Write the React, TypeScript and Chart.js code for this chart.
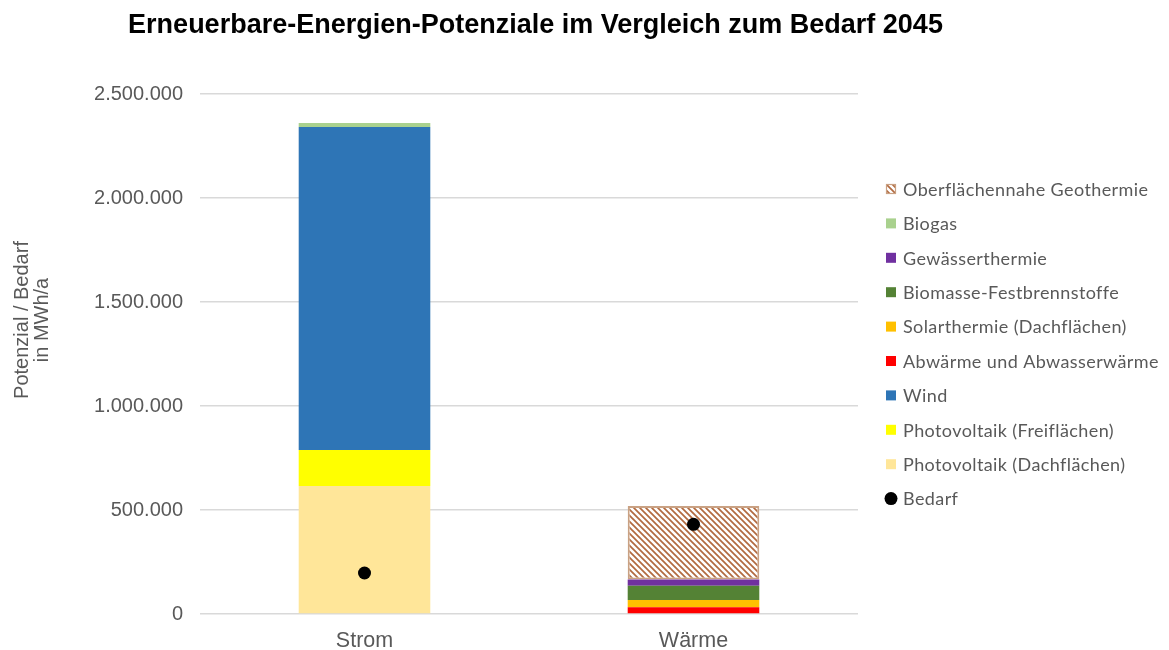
import React, { useEffect, useRef } from 'react';
import { Chart, registerables } from 'chart.js';

Chart.register(...registerables);

const titleText = 'Erneuerbare-Energien-Potenziale im Vergleich zum Bedarf 2045';
const yTitleLines = ['Potenzial / Bedarf', 'in MWh/a'];
const categories = ['Strom', 'Wärme'];
const pvDach = [615000, null];
const pvFrei = [173000, null];
const wind = [1553000, null];
const abwaerme = [null, 32000];
const solarthermie = [null, 35000];
const biomasse = [null, 69000];
const gewaesser = [null, 30000];
const biogas = [20000, null];
const geothermie = [null, 353000];
const bedarf = [197000, 431000];
const yTicks = [0, 500000, 1000000, 1500000, 2000000, 2500000];

const GREY = '#595959';

function makePattern(): CanvasPattern | string {
  const c = document.createElement('canvas');
  c.width = 6;
  c.height = 6;
  const g = c.getContext('2d');
  if (!g) return '#c55a11';
  g.fillStyle = '#ffffff';
  g.fillRect(0, 0, 6, 6);
  g.strokeStyle = 'rgba(165,80,30,0.85)';
  g.lineWidth = 1.7;
  g.beginPath();
  g.moveTo(-1, -1);
  g.lineTo(7, 7);
  g.moveTo(-4, 2);
  g.lineTo(4, 10);
  g.moveTo(2, -4);
  g.lineTo(10, 4);
  g.stroke();
  const p = g.createPattern(c, 'repeat');
  return p || '#c55a11';
}

function fmt(v: number): string {
  return String(Math.round(v)).replace(/\B(?=(\d{3})+(?!\d))/g, '.');
}

export default function App() {
  const ref = useRef<HTMLCanvasElement | null>(null);

  useEffect(() => {
    document.body.style.margin = '0';
    const canvas = ref.current;
    if (!canvas) return;
    const pattern = makePattern();

    const textPlugin = {
      id: 'texts',
      afterDraw(chart: any) {
        const ctx = chart.ctx as CanvasRenderingContext2D;
        ctx.save();
        // title
        ctx.fillStyle = '#000000';
        ctx.font = 'bold 27px "Liberation Sans", Arial, sans-serif';
        ctx.textAlign = 'center';
        ctx.textBaseline = 'alphabetic';
        ctx.fillText(titleText, 535.5, 33);
        // y axis title
        ctx.fillStyle = GREY;
        ctx.font = '20px "Liberation Sans", Arial, sans-serif';
        ctx.translate(0, 320);
        ctx.rotate(-Math.PI / 2);
        ctx.textAlign = 'center';
        ctx.fillText(yTitleLines[0], 0, 27.5);
        ctx.fillText(yTitleLines[1], 0, 48);
        ctx.restore();

        // legend
        ctx.save();
        const ds = chart.data.datasets;
        const order: number[] = [];
        for (let i = ds.length - 2; i >= 0; i--) order.push(i);
        order.push(ds.length - 1);
        ctx.font = '18px Lato, "Noto Sans", sans-serif';
        (ctx as any).letterSpacing = '0.4px';
        ctx.textBaseline = 'middle';
        ctx.textAlign = 'left';
        order.forEach((idx, k) => {
          const d = ds[idx];
          const y = 189 + k * 34.4;
          if (d.type === 'line') {
            ctx.fillStyle = '#000000';
            ctx.beginPath();
            ctx.arc(891, y, 6.5, 0, Math.PI * 2);
            ctx.fill();
          } else {
            ctx.fillStyle = d.backgroundColor;
            ctx.fillRect(886, y - 5, 10, 10);
            if (d.borderWidth) {
              ctx.strokeStyle = d.borderColor;
              ctx.lineWidth = 1.2;
              ctx.strokeRect(886.5, y - 4.5, 9, 9);
            }
          }
          ctx.fillStyle = GREY;
          ctx.fillText(d.label, 903, y + 1);
        });
        ctx.restore();
      },
    };

    const bar = (label: string, data: (number | null)[], color: any, extra: any = {}) => ({
      type: 'bar',
      label,
      data,
      backgroundColor: color,
      borderWidth: 0,
      stack: 'pot',
      order: 1,
      categoryPercentage: 0.8,
      barPercentage: 0.5,
      ...extra,
    });

    const chart = new Chart(canvas, {
      type: 'bar',
      data: {
        labels: categories,
        datasets: [
          bar('Photovoltaik (Dachflächen)', pvDach, '#FFE699'),
          bar('Photovoltaik (Freiflächen)', pvFrei, '#FFFF00'),
          bar('Wind', wind, '#2E75B6'),
          bar('Abwärme und Abwasserwärme', abwaerme, '#FF0000'),
          bar('Solarthermie (Dachflächen)', solarthermie, '#FFC000'),
          bar('Biomasse-Festbrennstoffe', biomasse, '#548235'),
          bar('Gewässerthermie', gewaesser, '#7030A0'),
          bar('Biogas', biogas, '#A9D18E'),
          bar('Oberflächennahe Geothermie', geothermie, pattern, {
            borderWidth: 2,
            borderColor: '#C9A183',
            borderSkipped: false,
          }),
          {
            type: 'line',
            label: 'Bedarf',
            data: bedarf,
            showLine: false,
            pointRadius: 6.5,
            pointHoverRadius: 6.5,
            pointBackgroundColor: '#000000',
            pointBorderColor: '#000000',
            pointBorderWidth: 0,
            stack: 'bedarf',
            order: 0,
          },
        ] as any,
      },
      options: {
        responsive: false,
        animation: false,
        events: [],
        layout: { padding: { left: 0, right: 311, top: 94, bottom: 0 } },
        plugins: {
          legend: { display: false },
          title: { display: false },
          tooltip: { enabled: false },
        },
        scales: {
          x: {
            stacked: true,
            grid: { display: false, drawTicks: false },
            border: { display: false },
            ticks: {
              color: GREY,
              padding: 14,
              font: { family: '"Liberation Sans", Arial, sans-serif', size: 21.5 },
            },
            afterFit(scale: any) {
              scale.height = 36;
            },
          },
          y: {
            stacked: true,
            min: 0,
            max: 2500000,
            grid: { color: '#D9D9D9', lineWidth: 1.5, drawTicks: false },
            border: { display: false },
            ticks: {
              color: GREY,
              padding: 17,
              font: { family: '"Liberation Sans", Arial, sans-serif', size: 20 },
              callback: (v: any) => fmt(Number(v)),
            },
            afterBuildTicks(scale: any) {
              scale.ticks = yTicks.map((v) => ({ value: v }));
            },
            afterFit(scale: any) {
              scale.width = 200;
            },
          },
        },
      } as any,
      plugins: [textPlugin],
    });

    return () => chart.destroy();
  }, []);

  return (
    <div style={{ width: 1169, height: 650, background: '#ffffff' }}>
      <canvas ref={ref} width={1169} height={650} style={{ display: 'block', width: 1169, height: 650 }} />
    </div>
  );
}
